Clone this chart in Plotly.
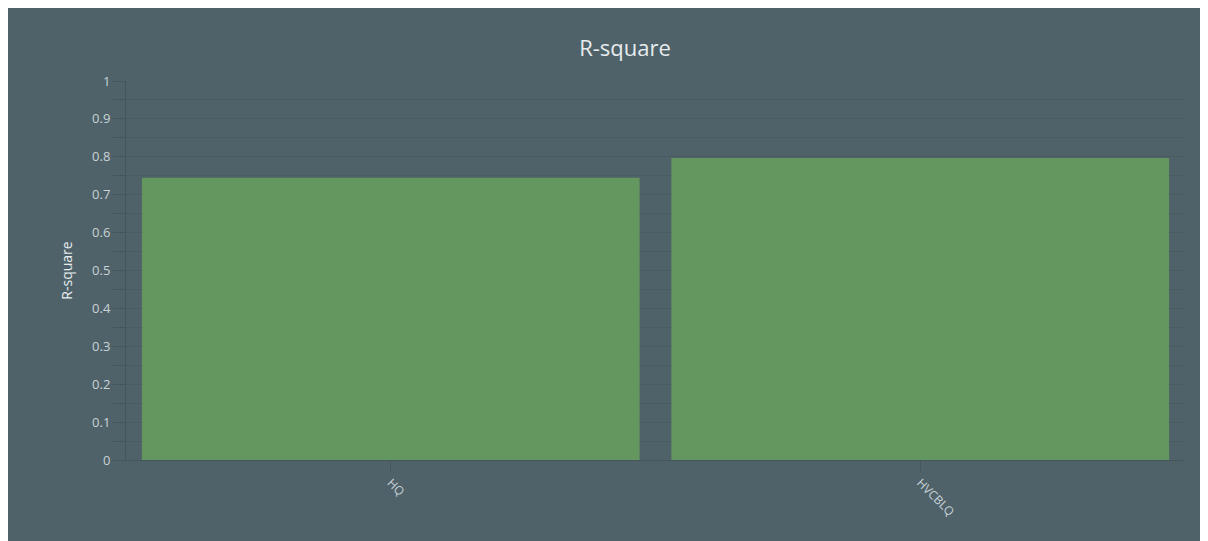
import plotly.graph_objects as go

categories = ["HQ", "HVCBLQ"]
r_square = [0.745, 0.797]
y_ticks = [0, 0.1, 0.2, 0.3, 0.4, 0.5, 0.6, 0.7, 0.8, 0.9, 1]
y_tick_labels = ["0", "0.1", "0.2", "0.3", "0.4", "0.5", "0.6", "0.7", "0.8", "0.9", "1"]

W, H = 1208, 533
L, R, T, B = 118, 31, 73, 81
bg = "#4f6269"

fig = go.Figure(go.Bar(
    x=categories, y=r_square,
    marker=dict(color="#64965f", line=dict(width=0)),
    width=0.94,
))

fig.update_layout(
    width=W, height=H,
    margin=dict(l=L, r=R, t=T, b=B),
    paper_bgcolor=bg,
    plot_bgcolor=bg,
    font=dict(family="Open Sans, sans-serif", color="#c9d2d6"),
    title=dict(text="R-square", x=617 / W, xanchor="center", y=1 - 40 / H, yanchor="middle",
               font=dict(size=22, color="#e6ecee")),
    showlegend=False,
    bargap=0.06,
)
fig.update_xaxes(
    showgrid=False, ticks="outside", ticklen=10, tickcolor="#44555c",
    tickangle=45, tickfont=dict(size=12, color="#c9d2d6"),
    showline=True, linecolor="#44555c", linewidth=1,
)
fig.update_yaxes(
    range=[0, 1], tickvals=y_ticks, ticktext=y_tick_labels,
    ticks="outside", ticklen=12, tickcolor="#44555c",
    showgrid=True, gridcolor="#4a5b62", gridwidth=1,
    minor=dict(dtick=0.05, ticks="outside", ticklen=12, tickcolor="#44555c",
               showgrid=True, gridcolor="#4a5b62"),
    showline=True, linecolor="#44555c", linewidth=1,
    zeroline=False,
    tickfont=dict(size=13, color="#c9d2d6"),
    title=dict(text="R-square", font=dict(size=14, color="#e6ecee"), standoff=16),
)
fig.write_html("out.html")
